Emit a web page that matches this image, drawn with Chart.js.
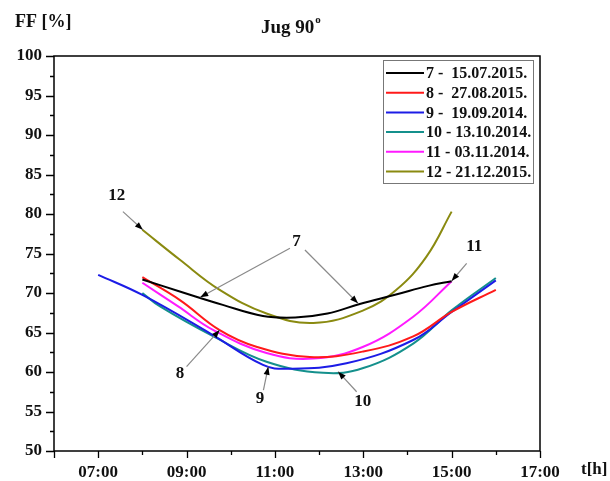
<!DOCTYPE html>
<html><head><meta charset="utf-8">
<script src="https://cdn.jsdelivr.net/npm/chart.js@4/dist/chart.umd.min.js"></script>
<style>html,body{margin:0;padding:0;background:#fff}#wrap{width:610px;height:481px}</style>
</head><body><div id="wrap"><canvas id="c" width="610" height="481"></canvas></div>
<script>
const seriesLabels = ["7 -  15.07.2015.","8 -  27.08.2015.","9 -  19.09.2014.","10 - 13.10.2014.","11 - 03.11.2014.","12 - 21.12.2015."];
const seriesColors = ["#000000","#ff1a1a","#1c1ce6","#14908c","#ff1aff","#8a8a10"];
const hours7 = [8.0, 8.90, 9.82, 10.73, 11.46, 12.19, 12.92, 13.74, 14.47, 15.0];
const ff7    = [71.7, 70.1, 68.5, 67.1, 66.9, 67.4, 68.6, 69.8, 70.9, 71.5];
const hours8 = [8.0, 8.85, 9.75, 10.58, 11.79, 13.0, 14.13, 15.0, 16.0];
const ff8    = [72.0, 69.1, 65.3, 63.2, 61.9, 62.6, 64.5, 67.6, 70.4];
const hours9 = [7.0, 8.0, 9.53, 10.73, 11.27, 12.62, 14.13, 15.0, 16.0];
const ff9    = [72.3, 69.75, 64.9, 60.9, 60.4, 61.1, 64.05, 67.6, 71.6];
const hours10 = [8.0, 8.40, 9.61, 10.81, 12.09, 13.0, 14.13, 15.0, 16.0];
const ff10    = [70.0, 68.3, 64.5, 61.3, 59.9, 60.5, 63.6, 67.8, 71.9];
const hours11 = [8.0, 8.81, 9.61, 10.81, 11.87, 13.0, 14.13, 15.0];
const ff11    = [71.3, 68.3, 65.3, 62.4, 61.7, 63.2, 67.0, 71.5];
const hours12 = [8.0, 8.85, 9.75, 10.81, 11.87, 13.0, 13.75, 14.43, 15.0];
const ff12    = [78.0, 74.2, 70.4, 67.4, 66.2, 67.8, 70.4, 74.6, 80.3];
const xTickHours = [6,7,8,9,10,11,12,13,14,15,16,17];
const xTickLabels = ["","07:00","","09:00","","11:00","","13:00","","15:00","","17:00"];
const yTicks = [50,52.5,55,57.5,60,62.5,65,67.5,70,72.5,75,77.5,80,82.5,85,87.5,90,92.5,95,97.5,100];

// callouts in data coordinates: label, label pos, arrows [from, to]
const callouts = [
  {t:"12", at:[7.42,82.3], arrows:[[[7.56,80.3],[8.01,78.0]]]},
  {t:"7", at:[11.49,76.5], arrows:[[[11.34,75.66],[9.31,69.46]],[[11.68,75.44],[12.88,68.7]]]},
  {t:"11", at:[15.51,75.86], arrows:[[[15.34,73.76],[15.0,71.52]]]},
  {t:"8", at:[8.85,59.84], arrows:[[[9.0,60.67],[9.75,65.32]]]},
  {t:"9", at:[10.66,56.67], arrows:[[[10.74,57.72],[10.85,60.67]]]},
  {t:"10", at:[12.99,56.24], arrows:[[[12.85,57.5],[12.43,60.04]]]}
];

const allHours = [hours7,hours8,hours9,hours10,hours11,hours12];
const allFF = [ff7,ff8,ff9,ff10,ff11,ff12];
const datasets = seriesLabels.map((lab,i)=>({
  label: lab,
  data: allHours[i].map((h,j)=>({x:h,y:allFF[i][j]})),
  borderColor: seriesColors[i],
  backgroundColor: seriesColors[i],
  borderWidth: 2,
  pointRadius: 0,
  tension: 0.4,
  fill: false
}));

const FONT = '"Liberation Serif","DejaVu Serif",serif';

const decor = {
  id:'decor',
  afterDraw(chart){
    const ctx = chart.ctx, xs = chart.scales.x, ys = chart.scales.y, ca = chart.chartArea;
    ctx.save();
    // frame
    ctx.strokeStyle = '#000'; ctx.lineWidth = 1.5;
    ctx.strokeRect(ca.left, ca.top, ca.right-ca.left, ca.bottom-ca.top);
    // ticks (major longer, minor shorter)
    ctx.lineWidth = 1.3;
    ctx.beginPath();
    xTickHours.forEach((v,i)=>{
      const px = Math.round(xs.getPixelForValue(v)) + 0.5;
      const len = (xTickLabels[i] !== "" || i === 0) ? 7 : 4;
      ctx.moveTo(px, ca.bottom); ctx.lineTo(px, ca.bottom + len);
    });
    yTicks.forEach(v=>{
      const py = Math.round(ys.getPixelForValue(v)) + 0.5;
      const len = (v % 5 === 0) ? 8 : 4;
      ctx.moveTo(ca.left, py); ctx.lineTo(ca.left - len, py);
    });
    ctx.stroke();
    // callouts
    ctx.font = 'bold 17px ' + FONT;
    ctx.textAlign = 'center'; ctx.textBaseline = 'middle';
    callouts.forEach(c=>{
      ctx.fillStyle = '#111';
      ctx.fillText(c.t, xs.getPixelForValue(c.at[0]), ys.getPixelForValue(c.at[1]));
      c.arrows.forEach(a=>{
        const x1 = xs.getPixelForValue(a[0][0]), y1 = ys.getPixelForValue(a[0][1]);
        const x2 = xs.getPixelForValue(a[1][0]), y2 = ys.getPixelForValue(a[1][1]);
        ctx.strokeStyle = '#8a8a8a'; ctx.lineWidth = 1.2;
        ctx.beginPath(); ctx.moveTo(x1,y1); ctx.lineTo(x2,y2); ctx.stroke();
        const ang = Math.atan2(y2-y1, x2-x1), L = 8, W = 3;
        ctx.fillStyle = '#000';
        ctx.beginPath();
        ctx.moveTo(x2,y2);
        ctx.lineTo(x2 - L*Math.cos(ang) + W*Math.sin(ang), y2 - L*Math.sin(ang) - W*Math.cos(ang));
        ctx.lineTo(x2 - L*Math.cos(ang) - W*Math.sin(ang), y2 - L*Math.sin(ang) + W*Math.cos(ang));
        ctx.closePath(); ctx.fill();
      });
    });
    // legend box
    const bx = 383, by = 60, bw = 150, bh = 123;
    ctx.strokeStyle = '#777'; ctx.lineWidth = 1;
    ctx.strokeRect(bx+0.5, by+0.5, bw, bh);
    ctx.font = 'bold 16px ' + FONT;
    ctx.textAlign = 'left'; ctx.textBaseline = 'middle';
    chart.data.datasets.forEach((d,i)=>{
      const yy = 73 + i*19.7;
      ctx.strokeStyle = d.borderColor; ctx.lineWidth = 2;
      ctx.beginPath(); ctx.moveTo(386, yy); ctx.lineTo(424, yy); ctx.stroke();
      ctx.fillStyle = '#111';
      ctx.fillText(d.label, 426, yy+1);
    });
    // titles
    ctx.fillStyle = '#111';
    ctx.textAlign = 'left'; ctx.textBaseline = 'middle';
    ctx.font = 'bold 18px ' + FONT;
    ctx.fillText('FF [%]', 15, 22);
    ctx.font = 'bold 17px ' + FONT;
    ctx.fillText('t[h]', 581, 470);
    ctx.font = 'bold 19px ' + FONT;
    ctx.fillText('Jug 90', 261, 28);
    const w = ctx.measureText('Jug 90').width;
    ctx.font = 'bold 11px ' + FONT;
    ctx.fillText('o', 261 + w + 1, 20);
    ctx.restore();
  }
};

new Chart(document.getElementById('c'), {
  type:'line',
  data:{datasets},
  options:{
    responsive:false,
    animation:false,
    layout:{padding:{top:56, right:70, left:0, bottom:0}},
    plugins:{legend:{display:false}, tooltip:{enabled:false}},
    scales:{
      x:{
        type:'linear', min:6, max:17,
        afterBuildTicks(s){ s.ticks = xTickHours.map(v=>({value:v})); },
        afterFit(s){ s.height = 30; },
        grid:{drawOnChartArea:false, drawTicks:false},
        border:{display:false},
        ticks:{
          autoSkip:false, maxRotation:0, padding:11, color:'#111',
          font:{family:FONT, size:17, weight:'bold'},
          callback(v){ const i = xTickHours.indexOf(v); return i>=0 ? xTickLabels[i] : ''; }
        }
      },
      y:{
        type:'linear', min:50, max:100,
        afterBuildTicks(s){ s.ticks = yTicks.map(v=>({value:v})); },
        afterFit(s){ s.width = 54; },
        grid:{drawOnChartArea:false, drawTicks:false},
        border:{display:false},
        ticks:{
          autoSkip:false, padding:12, color:'#111',
          font:{family:FONT, size:17, weight:'bold'},
          callback(v){ return v % 5 === 0 ? String(v) : ''; }
        }
      }
    }
  },
  plugins:[decor]
});
</script>
</body></html>
